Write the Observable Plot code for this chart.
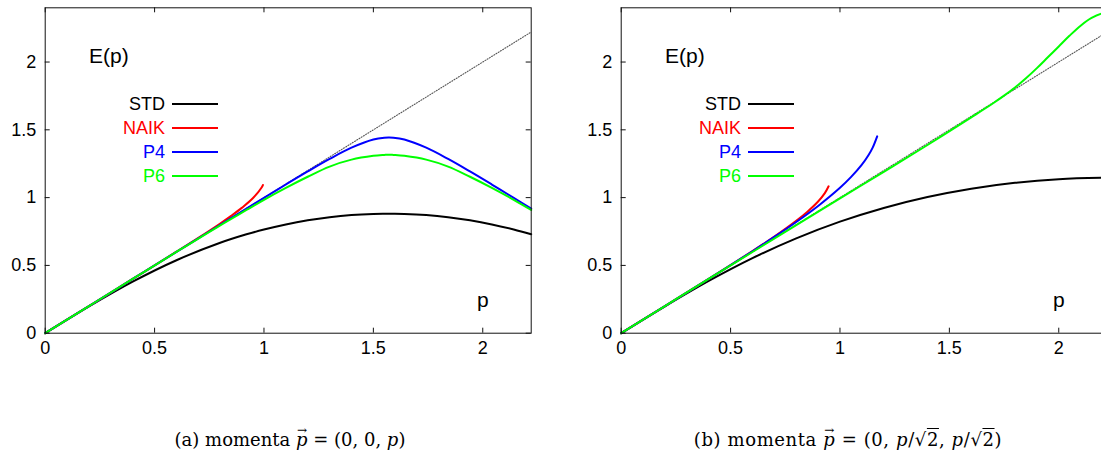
<!DOCTYPE html>
<html><head><meta charset="utf-8">
<script src="https://cdn.jsdelivr.net/npm/d3@7"></script>
<script src="https://cdn.jsdelivr.net/npm/@observablehq/plot@0.6"></script>
<style>
html,body{margin:0;padding:0;background:#fff;overflow:hidden;width:1101px;height:457px;}
#wrap{position:relative;width:1101px;height:457px;overflow:hidden;}
.panel{position:absolute;top:0;width:560px;height:360px;}
.panel svg{max-width:none !important;}
.cap{position:absolute;top:430px;font-family:"DejaVu Serif",serif;font-size:18px;white-space:nowrap;transform:translateX(-50%);line-height:20px;}
.cap i{font-style:italic;}
.vec{position:relative;display:inline-block;}
.vec .arr{position:absolute;left:1px;top:-10px;font-size:12px;font-style:normal;}
.leg{position:absolute;font-family:"Liberation Sans",Arial,sans-serif;font-size:18px;line-height:20px;}
.legtxt{position:absolute;text-align:right;width:80px;}
.legline{position:absolute;height:2px;width:46px;}
</style></head><body><div id="wrap"></div>
<script>
// ---------- shared axes ----------
const xTicks = [0, 0.5, 1, 1.5, 2];
const yTicks = [0, 0.5, 1, 1.5, 2];
const xMax = 2.2214;
const yMax = 2.4;
const diagP = [0, 2.2214];
const seriesNames = ["STD", "NAIK", "P4", "P6"];
const seriesColors = ["#000000", "#ff0000", "#0000ff", "#00ff00"];
const annText = ["E(p)", "p"];
const annX = [0.2, 2.0];
const annY = [2.045, 0.24];

// ---------- panel (a): momenta (0,0,p) ----------
const aP = [0, 0.2, 0.4, 0.6, 0.8, 0.92, 1.0, 1.1, 1.2, 1.3, 1.4, 1.5, 1.55, 1.5708, 1.5916, 1.6416, 1.7416, 1.8416, 1.9416, 2.0416, 2.1416, 2.2214];
const aSTD = [0, 0.1974, 0.3802, 0.5383, 0.6668, 0.7292, 0.7647, 0.8023, 0.8325, 0.8554, 0.8711, 0.8796, 0.8812, 0.8814, 0.8812, 0.8796, 0.8711, 0.8554, 0.8325, 0.8023, 0.7647, 0.7296];
const aP4  = [0, 0.2000, 0.4000, 0.6000, 0.7997, 0.9198, 0.9984, 1.0966, 1.1929, 1.2853, 1.3683, 1.4286, 1.4423, 1.4436, 1.4423, 1.4286, 1.3683, 1.2853, 1.1929, 1.0966, 0.9984, 0.9198];
const aP6  = [0, 0.2000, 0.4000, 0.5995, 0.7960, 0.9090, 0.9840, 1.0720, 1.1540, 1.2290, 1.2800, 1.3080, 1.3150, 1.3170, 1.3150, 1.3080, 1.2800, 1.2290, 1.1540, 1.0720, 0.9840, 0.9090];
const aNaikP = [0, 0.2, 0.4, 0.6, 0.7, 0.8, 0.85, 0.9, 0.95, 0.99, 0.995];
const aNaikE = [0, 0.2000, 0.4000, 0.6011, 0.7033, 0.8093, 0.8656, 0.9262, 0.9967, 1.0768, 1.0927];

// ---------- panel (b): momenta (0,p/sqrt2,p/sqrt2) ----------
const bStdP = [0, 0.2, 0.4, 0.6, 0.8, 1.0, 1.2, 1.4, 1.6, 1.8, 2.0, 2.2, 2.2214];
const bStdE = [0, 0.1980, 0.3851, 0.5535, 0.6995, 0.8227, 0.9239, 1.0046, 1.0661, 1.1097, 1.1362, 1.1461, 1.1462];
const bNaikP = [0, 0.2, 0.4, 0.6, 0.7, 0.8, 0.85, 0.9, 0.93, 0.948];
const bNaikE = [0, 0.2000, 0.4006, 0.6053, 0.7126, 0.8289, 0.8943, 0.9712, 1.0309, 1.0836];
const bP4P = [0, 0.2, 0.4, 0.6, 0.7, 0.8, 0.9, 1.0, 1.05, 1.1, 1.13, 1.15, 1.17];
const bP4E = [0, 0.2000, 0.4006, 0.6045, 0.7099, 0.8201, 0.9386, 1.0729, 1.1512, 1.2438, 1.3129, 1.3708, 1.4519];
const bP6P = [0, 0.2, 0.4, 0.6, 0.8, 1.0, 1.2, 1.4, 1.6, 1.7, 1.75, 1.8, 1.85, 1.9, 1.95, 2.0, 2.05, 2.1, 2.15, 2.2, 2.2214];
const bP6E = [0, 0.2, 0.4, 0.599, 0.797, 0.994, 1.19, 1.388, 1.592, 1.696, 1.752, 1.812, 1.880, 1.955, 2.035, 2.115, 2.195, 2.268, 2.325, 2.360, 2.365];

// ---------- build ----------
const zip = (xs, ys) => xs.map((p, i) => ({p, e: ys[i]}));
const W = 560, H = 360, mL = 44.7, mR = 29.3, mT = 7.3, mB = 27.3;
const plotW = W - mL - mR, plotH = H - mT - mB, tickLen = 5;
const fmt = d => String(d);

function panel(series, left) {
  const diag = zip(diagP, diagP);
  const ann = annText.map((t, i) => ({t, x: annX[i], y: annY[i]}));
  const svg = Plot.plot({
    width: W, height: H,
    marginLeft: mL, marginRight: mR, marginTop: mT, marginBottom: mB,
    x: {domain: [0, xMax]},
    y: {domain: [0, yMax]},
    style: {fontFamily: "'Liberation Sans', Arial, sans-serif", fontSize: "18px", background: "transparent", overflow: "visible", color: "#000", maxWidth: "none"},
    marks: [
      Plot.line(diag, {x: "p", y: "e", stroke: "#555", strokeWidth: 1.1, strokeDasharray: "1,1.6"}),
      ...series.map(s => Plot.line(s.data, {x: "p", y: "e", stroke: s.color, strokeWidth: 2, curve: "catmull-rom"})),
      Plot.frame({stroke: "#111", strokeWidth: 1}),
      Plot.tickX(xTicks, {x: d => d, insetTop: plotH - tickLen, stroke: "#111"}),
      Plot.tickX(xTicks, {x: d => d, insetBottom: plotH - tickLen, stroke: "#111"}),
      Plot.tickY(yTicks, {y: d => d, insetRight: plotW - tickLen, stroke: "#111"}),
      Plot.tickY(yTicks, {y: d => d, insetLeft: plotW - tickLen, stroke: "#111"}),
      Plot.axisX(xTicks, {tickSize: 0, tickPadding: 8, label: null, fontSize: 18, tickFormat: fmt}),
      Plot.axisY(yTicks, {tickSize: 0, tickPadding: 9, label: null, fontSize: 18, tickFormat: fmt}),
      Plot.text(ann.slice(0, 1), {x: "x", y: "y", text: "t", textAnchor: "start", fontSize: 21}),
      Plot.text(ann.slice(1), {x: "x", y: "y", text: "t", textAnchor: "middle", fontSize: 21})
    ]
  });
  svg.style.maxWidth = "none";
  const div = document.createElement("div");
  div.className = "panel";
  div.style.left = left + "px";
  div.appendChild(svg);
  document.getElementById("wrap").appendChild(div);
}

const aSeries = [
  {data: zip(aP, aSTD), color: seriesColors[0]},
  {data: zip(aNaikP, aNaikE), color: seriesColors[1]},
  {data: zip(aP, aP4), color: seriesColors[2]},
  {data: zip(aP, aP6), color: seriesColors[3]}
];
const bSeries = [
  {data: zip(bStdP, bStdE), color: seriesColors[0]},
  {data: zip(bNaikP, bNaikE), color: seriesColors[1]},
  {data: zip(bP4P, bP4E), color: seriesColors[2]},
  {data: zip(bP6P, bP6E), color: seriesColors[3]}
];
panel(aSeries, 0);
panel(bSeries, 576);

// legends (gnuplot key)
function legend(left) {
  const wrap = document.getElementById("wrap");
  seriesNames.forEach((name, i) => {
    const yc = 104 + i * 24;
    const t = document.createElement("div");
    t.className = "leg legtxt";
    t.style.left = (left + 165 - 80) + "px";
    t.style.top = (yc - 10) + "px";
    t.style.color = seriesColors[i];
    t.textContent = name;
    wrap.appendChild(t);
    const l = document.createElement("div");
    l.className = "leg legline";
    l.style.left = (left + 172) + "px";
    l.style.top = (yc - 1) + "px";
    l.style.background = seriesColors[i];
    wrap.appendChild(l);
  });
}
legend(0);
legend(576);

// captions
const vecP = '<span class="vec"><i>p</i><span class="arr">&#8594;</span></span>';
const root2 = '&#8730;<span style="text-decoration:overline">2</span>';
const capA = document.createElement("div");
capA.className = "cap";
capA.style.left = "290px";
capA.innerHTML = '(a) momenta ' + vecP + ' = (0, 0, <i>p</i>)';
const capB = document.createElement("div");
capB.className = "cap";
capB.style.left = "848px";
capB.style.letterSpacing = "0.6px";
capB.innerHTML = '(b) momenta ' + vecP + ' = (0, <i>p</i>/' + root2 + ', <i>p</i>/' + root2 + ')';
document.getElementById("wrap").appendChild(capA);
document.getElementById("wrap").appendChild(capB);
</script></body></html>
